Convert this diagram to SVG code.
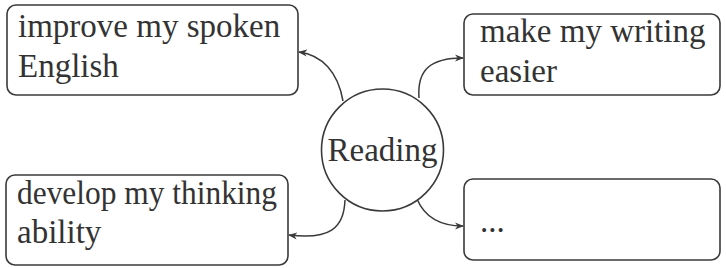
<svg xmlns="http://www.w3.org/2000/svg" width="726" height="268" viewBox="0 0 726 268">
<defs>
<style>
.box{fill:#fff;stroke:#3a3a3a;stroke-width:1.6}
.t{font-family:"Liberation Serif","Times New Roman",serif;font-size:33px;fill:#333}
.c{fill:none;stroke:#3a3a3a;stroke-width:1.5}
</style>
<marker id="ah" viewBox="0 0 10 10" refX="9" refY="5" markerWidth="9" markerHeight="9" markerUnits="userSpaceOnUse" orient="auto">
<path d="M0,1 L10,5 L0,9 L3,5 Z" fill="#3a3a3a"/>
</marker>
</defs>
<rect width="726" height="268" fill="#fff"/>
<g id="connectors">
<path class="c" d="M343,101 C338,72 322,55 299,52" marker-end="url(#ah)"/>
<path class="c" d="M419,98 C417,70 430,58 463,58" marker-end="url(#ah)"/>
<path class="c" d="M345,200 C344,228 330,240 289,235" marker-end="url(#ah)"/>
<path class="c" d="M417,199 C425,218 440,226 463,226" marker-end="url(#ah)"/>
</g>
<g id="node-reading">
<circle class="box" cx="382.5" cy="150" r="61"/>
<text class="t" x="382.5" y="161" text-anchor="middle">Reading</text>
</g>
<g id="node-spoken">
<rect class="box" x="7" y="5" width="291" height="90" rx="9"/>
<text class="t" x="18" y="37">improve my spoken</text>
<text class="t" x="18" y="77">English</text>
</g>
<g id="node-writing">
<rect class="box" x="464" y="14" width="256" height="81" rx="9"/>
<text class="t" x="480" y="42">make my writing</text>
<text class="t" x="480" y="82">easier</text>
</g>
<g id="node-thinking">
<rect class="box" x="6" y="175" width="282" height="90" rx="9"/>
<text class="t" x="17" y="204" textLength="260" lengthAdjust="spacingAndGlyphs">develop my thinking</text>
<text class="t" x="17" y="243">ability</text>
</g>
<g id="node-more">
<rect class="box" x="464" y="179" width="256" height="81" rx="9"/>
<text class="t" x="480" y="232">...</text>
</g>
</svg>
